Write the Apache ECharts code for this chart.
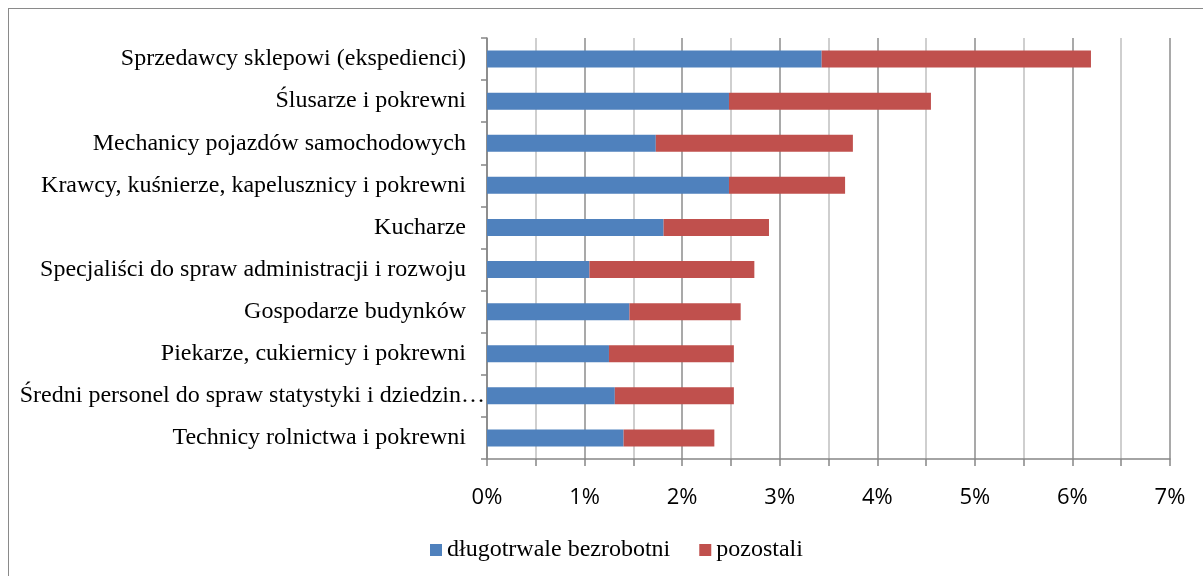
<!DOCTYPE html>
<html>
<head>
<meta charset="utf-8">
<script src="https://cdn.jsdelivr.net/npm/echarts@6/dist/echarts.min.js"></script>
<style>
  html, body { margin: 0; padding: 0; background: #fff; }
  #frame { position: absolute; left: 8px; top: 8px; width: 1210px; height: 590px; border: 1.5px solid #8a8a8a; box-sizing: border-box; }
  #container { position: absolute; left: 0; top: 0; width: 1203px; height: 576px; }
</style>
</head>
<body>
<div id="frame"></div>
<div id="container"></div>
<script>
// Data (share of unemployed, %)
const categories = [
  'Sprzedawcy sklepowi (ekspedienci)',
  'Ślusarze i pokrewni',
  'Mechanicy pojazdów samochodowych',
  'Krawcy, kuśnierze, kapelusznicy i pokrewni',
  'Kucharze',
  'Specjaliści do spraw administracji i rozwoju',
  'Gospodarze budynków',
  'Piekarze, cukiernicy i pokrewni',
  'Średni personel do spraw statystyki i dziedzin…',
  'Technicy rolnictwa i pokrewni'
];
const longTerm = [3.43, 2.48, 1.73, 2.48, 1.81, 1.05, 1.46, 1.25, 1.31, 1.40];
const totals = [6.19, 4.55, 3.75, 3.67, 2.89, 2.74, 2.60, 2.53, 2.53, 2.33];
const others = totals.map((t, i) => +(t - longTerm[i]).toFixed(2));
const seriesNames = ['długotrwale bezrobotni', 'pozostali'];

const chart = echarts.init(document.getElementById('container'));

// the truncated label overflows towards the axis in the original
const yData = categories.map(c => c.endsWith('…')
  ? { value: c, textStyle: { padding: [0, -19, 0, 0] } }
  : c);

const option = {
  animation: false,
  color: ['#4F81BD', '#C0504D'],
  grid: { left: 487, right: 33, top: 38, bottom: 117, outerBoundsMode: 'none' },
  legend: {
    left: 425, top: 533,
    itemWidth: 12, itemHeight: 12, itemGap: 29,
    icon: 'rect',
    textStyle: { fontFamily: 'Liberation Serif', fontSize: 24, color: '#000' },
    data: seriesNames
  },
  xAxis: {
    type: 'value', min: 0, max: 7, interval: 1,
    axisLine: { show: true, lineStyle: { color: '#868686', width: 1.5 } },
    axisTick: { show: true, length: 7, lineStyle: { color: '#868686', width: 1.5 } },
    minorTick: { show: true, splitNumber: 2, length: 7, lineStyle: { color: '#868686', width: 1.5 } },
    splitLine: { show: true, lineStyle: { color: '#8c8c8c', width: 1.5 } },
    minorSplitLine: { show: true, lineStyle: { color: '#c0c0c0', width: 1.5 } },
    axisLabel: {
      margin: 28, fontFamily: 'Open Sans', fontSize: 22, color: '#000',
      formatter: v => v + '%'
    }
  },
  yAxis: {
    type: 'category', inverse: true, data: yData,
    axisLine: { show: true, lineStyle: { color: '#868686', width: 1.5 } },
    axisTick: { show: true, length: 6, lineStyle: { color: '#868686', width: 1.5 } },
    axisLabel: { margin: 21, fontFamily: 'Liberation Serif', fontSize: 24, color: '#000' }
  },
  series: [
    { name: seriesNames[0], type: 'bar', stack: 'a', barWidth: 17, data: longTerm },
    { name: seriesNames[1], type: 'bar', stack: 'a', barWidth: 17, data: others }
  ]
};

chart.setOption(option);
</script>
</body>
</html>
